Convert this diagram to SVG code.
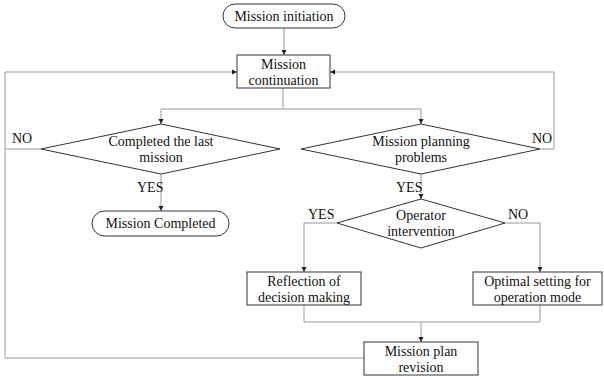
<svg xmlns="http://www.w3.org/2000/svg" width="604" height="380" viewBox="0 0 604 380">
<defs>
<marker id="ah" markerWidth="6" markerHeight="6" refX="5" refY="3" orient="auto" markerUnits="userSpaceOnUse">
<path d="M0,0.5 L5,3 L0,5.5 Z" fill="#222"/>
</marker>
<style>
.n{fill:#fff;stroke:#333;stroke-width:1}
.t{font-family:"Liberation Serif","Times New Roman",serif;font-size:14px;fill:#111;text-anchor:middle}
.l{font-family:"Liberation Serif","Times New Roman",serif;font-size:14px;fill:#111}
.c{fill:none;stroke:#999;stroke-width:1}
.a{fill:none;stroke:#999;stroke-width:1;marker-end:url(#ah)}
</style>
</defs>
<rect width="604" height="380" fill="#fff"/>
<g id="connectors">
<path class="a" d="M284,28 V55"/>
<path class="a" d="M364,358 H5 V72 H237"/>
<path class="a" d="M540,149 H554 V72 H330"/>
<path class="c" d="M41,149 H5"/>
<path class="c" d="M283,88 V109"/>
<path class="a" d="M283,109 H161 V124"/>
<path class="a" d="M283,109 H421 V124"/>
<path class="a" d="M161,174 V211"/>
<path class="a" d="M421,174 V199"/>
<path class="a" d="M337,223 H304 V272"/>
<path class="a" d="M505,223 H540 V272"/>
<path class="c" d="M304,305 V322 H540 V305"/>
<path class="a" d="M421,322 V342"/>
</g>
<g id="labels">
<text class="l" x="12" y="143">NO</text>
<text class="l" x="532" y="143">NO</text>
<text class="l" x="137" y="192">YES</text>
<text class="l" x="396" y="192">YES</text>
<text class="l" x="308" y="219">YES</text>
<text class="l" x="508" y="219">NO</text>
</g>
<g id="n1">
<rect class="n" x="223" y="4" width="122" height="24" rx="12"/>
<text class="t" x="284" y="21">Mission initiation</text>
</g>
<g id="n2">
<rect class="n" x="237" y="55" width="93" height="33"/>
<text class="t" x="283.5" y="69">Mission</text>
<text class="t" x="283.5" y="85">continuation</text>
</g>
<g id="n3">
<polygon class="n" points="41,149 161,124 280,149 161,174"/>
<text class="t" x="161" y="146">Completed the last</text>
<text class="t" x="161" y="162">mission</text>
</g>
<g id="n4">
<polygon class="n" points="301,149 421,124 540,149 421,174"/>
<text class="t" x="421" y="146">Mission planning</text>
<text class="t" x="421" y="162">problems</text>
</g>
<g id="n5">
<rect class="n" x="92" y="211" width="137" height="25" rx="12.5"/>
<text class="t" x="160.5" y="228">Mission Completed</text>
</g>
<g id="n6">
<polygon class="n" points="337,223 421,199 505,223 421,248"/>
<text class="t" x="421" y="220">Operator</text>
<text class="t" x="421" y="236">intervention</text>
</g>
<g id="n7">
<rect class="n" x="247" y="272" width="114" height="33"/>
<text class="t" x="304" y="286">Reflection of</text>
<text class="t" x="304" y="302">decision making</text>
</g>
<g id="n8">
<rect class="n" x="473" y="272" width="129" height="33"/>
<text class="t" x="537.5" y="286">Optimal setting for</text>
<text class="t" x="537.5" y="302">operation mode</text>
</g>
<g id="n9">
<rect class="n" x="364" y="342" width="114" height="33"/>
<text class="t" x="421" y="356">Mission plan</text>
<text class="t" x="421" y="372">revision</text>
</g>
</svg>
